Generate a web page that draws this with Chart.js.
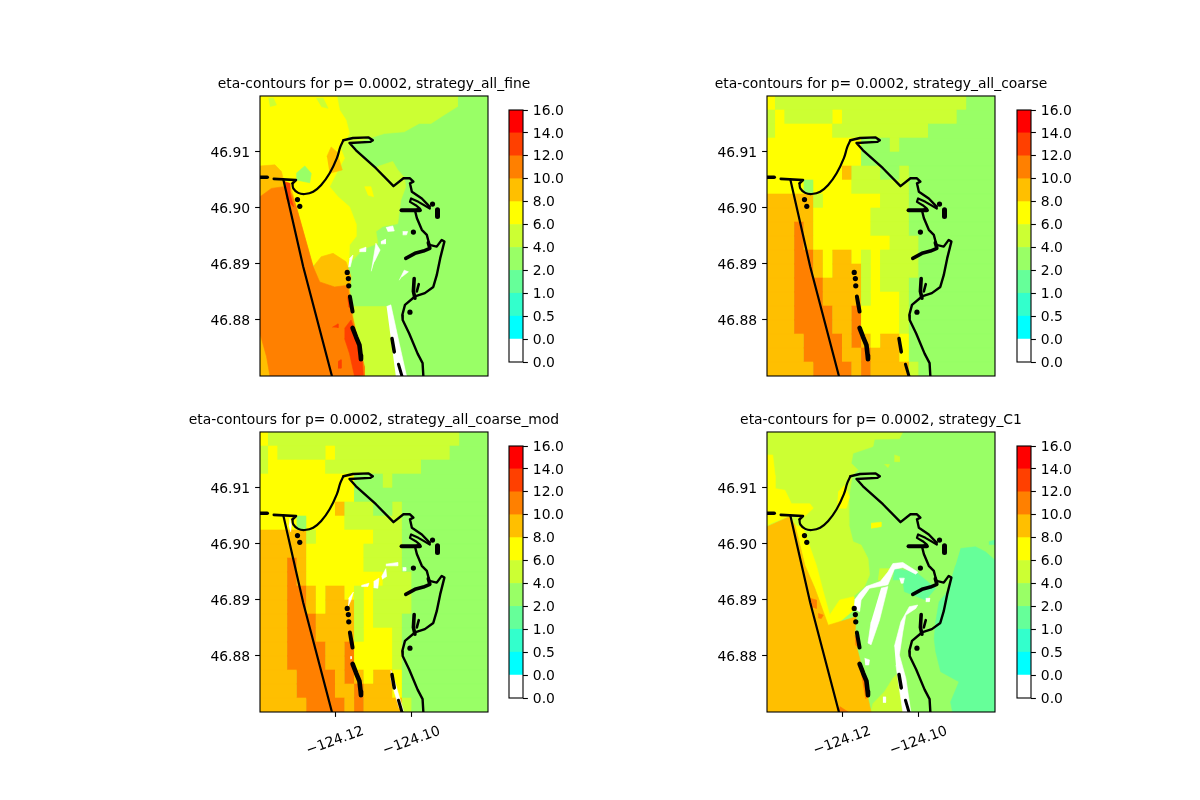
<!DOCTYPE html>
<html>
<head>
<meta charset="utf-8">
<title>eta contours</title>
<script src="https://cdn.jsdelivr.net/npm/chart.js@4"></script>
<style>
  html, body { margin: 0; padding: 0; background: #fff; }
  canvas { position: absolute; }
</style>
</head>
<body>
<script>
// colour levels and colorbar ticks
const levelColors = ['#ffffff', '#00ffff', '#33ffcc', '#66ff99', '#99ff66', '#ccff33', '#ffff00', '#ffbf00', '#ff8000', '#ff4000', '#ff0000'];
const colorTickLabels = ['0.0', '0.0', '0.5', '1.0', '2.0', '4.0', '6.0', '8.0', '10.0', '12.0', '14.0', '16.0'];
const lonTicks = [-124.12, -124.10];
const latTicks = [46.88, 46.89, 46.90, 46.91];
const titles = [
  'eta-contours for p= 0.0002, strategy_all_fine',
  'eta-contours for p= 0.0002, strategy_all_coarse',
  'eta-contours for p= 0.0002, strategy_all_coarse_mod',
  'eta-contours for p= 0.0002, strategy_C1'
];

// all shapes below: [east of lonWest, north of latSouth] in 1e-4 degrees
const lonWest = -124.1397, lonEast = -124.0801, latSouth = 46.87, latNorth = 46.92;
const fullBox = [[0, 0], [596, 0], [596, 500], [0, 500]];

// coastline
const coastJetty = [[188, 0], [113, 195], [61, 351]];
const coastDash = [[0, 355], [19, 355]];
const coastSpitHead = [[36, 352], [94, 350], [85, 344]];
const coastBayCurve = [[85, 344], [87, 335], [100, 327], [117, 325], [139, 329], [160, 341], [182, 362], [201, 389], [210, 409], [218, 421]];
const coastHook = [[218, 421], [243, 425], [284, 426], [295, 421], [288, 418], [234, 416], [251, 403], [303, 371], [349, 339], [375, 353], [392, 353], [401, 347], [392, 344], [397, 329], [423, 317], [444, 302]];
const coastLoop = [[444, 299], [414, 311], [395, 317], [392, 311], [407, 305], [418, 299], [405, 296]];
const coastMain = [[405, 296], [410, 282], [423, 261], [436, 252], [443, 234], [462, 231], [475, 243], [482, 240], [471, 210], [462, 180], [453, 159], [431, 148], [405, 142], [379, 127], [372, 109], [373, 100], [390, 76], [412, 40], [425, 23], [427, 0]];
const channelB = [[370, 296], [418, 296]];
const channelC = [[381, 210], [405, 219], [427, 223], [444, 228], [440, 238]];
const channelD = [[403, 174], [401, 151], [405, 139]];
const channelE = [[415, 164], [410, 151]];
const islandBlob = [[464, 297], [464, 285]];
const islandA = [[235, 142], [238, 130], [242, 115]];
const islandB = [[242, 86], [251, 70], [260, 55], [263, 37], [264, 30]];
const islandC = [[345, 67], [351, 43]];
const islandD = [[362, 21], [371, 0]];
const coastDots = [[98, 315], [104, 303], [401, 257], [392, 114], [228, 185], [231, 174], [232, 161], [451, 307]];

// all_fine contours
const f1North = [[147, 500], [516, 500], [516, 481], [481, 466], [447, 451], [416, 451], [377, 436], [325, 433], [269, 421], [234, 415], [303, 371], [308, 374], [347, 383], [360, 368], [377, 355], [381, 338], [368, 314], [360, 272], [321, 267], [303, 258], [308, 237], [269, 226], [234, 201], [147, 213]];
const f1South = [[243, 124], [334, 124], [355, 0], [273, 0], [243, 100]];
const f1Yellow = [[0, 500], [201, 500], [208, 475], [225, 457], [234, 433], [210, 408], [221, 389], [204, 368], [182, 338], [204, 320], [234, 302], [251, 272], [251, 249], [234, 234], [232, 195], [147, 195], [0, 272]];
const f1YellowPatch = [[273, 338], [290, 338], [297, 320], [282, 323]];
const f1GreenPatch = [[95, 362], [117, 375], [134, 362], [130, 345], [95, 350]];
const f1BitA = [[22, 496], [35, 496], [43, 484], [26, 481]];
const f1BitB = [[147, 496], [165, 496], [178, 478], [160, 481]];
const f1Amber = [[0, 375], [39, 377], [56, 365], [61, 351], [82, 335], [95, 302], [139, 195], [160, 213], [191, 219], [225, 204], [238, 177], [234, 154], [243, 106], [273, 0], [0, 0]];
const f1AmberPatch = [[175, 392], [186, 409], [201, 400], [215, 368], [182, 362]];
const f1Orange = [[0, 320], [30, 335], [61, 338], [82, 326], [95, 302], [139, 195], [156, 168], [195, 159], [230, 162], [234, 130], [243, 100], [273, 17], [273, 0], [26, 0], [17, 35], [0, 76]];
const f1RedA = [[65, 347], [78, 344], [78, 326], [88, 302], [68, 317]];
const f1RedB = [[221, 85], [238, 100], [251, 76], [266, 40], [270, 2], [247, 0], [234, 40], [221, 67]];
const f1RedC = [[228, 142], [241, 118], [231, 124]];
const f1RedD = [[189, 87], [204, 93], [204, 86]];
const f1RedE = [[204, 26], [212, 29], [212, 14], [204, 14]];
const f1HoleA = [[331, 124], [342, 127], [364, 58], [383, 0], [355, 0]];
const f1HoleB = [[234, 210], [243, 216], [236, 195], [231, 195]];
const f1HoleC = [[291, 187], [303, 237], [314, 225], [299, 204]];
const f1HoleD = [[364, 171], [377, 189], [388, 186], [371, 177]];
const f1HoleE = [[329, 265], [347, 268], [351, 259], [334, 258]];
const f1HoleF = [[260, 226], [277, 230], [276, 222], [260, 222]];
const f1HoleG = [[316, 240], [328, 244], [328, 236], [316, 236]];
const f1HoleH = [[373, 258], [386, 258], [383, 252], [373, 252]];
const fineLayers1 = [[4, fullBox], [5, f1North], [5, f1South], [6, f1Yellow], [6, f1YellowPatch], [4, f1GreenPatch], [5, f1BitA], [5, f1BitB], [7, f1Amber], [7, f1AmberPatch], [8, f1Orange], [9, f1RedA], [9, f1RedB], [9, f1RedC], [9, f1RedD], [9, f1RedE], [0, f1HoleA], [0, f1HoleB], [0, f1HoleC], [0, f1HoleD], [0, f1HoleE], [0, f1HoleF], [0, f1HoleG], [0, f1HoleH]];

// coarse grid levels, north to south, 24 cells per row (all_coarse and all_coarse_mod)
const coarseRows = [
  '6 55555555555555555555 444',
  '5 6 55555 6 555555555555 4444',
  '5 666666 5555555555 4444444',
  '6666666666 444 5 4444444444',
  '6666666666 44444444444444',
  '66666666 7 5 55 44 5 444444444',
  '6666 4 6666 555555 444444444',
  '77777 5 666666 555 444444444',
  '77777 666666 5555 444444444',
  '777 8 7 666666 5555 444444444',
  '777 8 7 66666666 555 44444444',
  '777 88 7 6 77 6 5 6 5555 44444444',
  '777 88 7 6 777 5 6 5555 44444444',
  '777 888 7777 5 6 555 444444444',
  '777 888 7777 5 666 5 444444444',
  '777 8888 77 8 6666 5 444444444',
  '777 8888 77 8 6666 5 444444444',
  '7777 8888 7 8 7 6 77 6 444444444',
  '7777 8888 77 8 777 6 444444444',
  '77777 8888 7 8 7777 5 44444444'
];
const firstCellWidth = 21, cellSize = 25;

// white gaps on all_coarse_mod
const modHoleA = [[78, 346], [82, 334], [80, 322], [76, 334]];
const modHoleB = [[232, 203], [244, 214], [238, 200], [230, 188]];
const modHoleC = [[265, 226], [285, 230], [282, 224], [265, 224]];
const modHoleD = [[297, 233], [311, 239], [308, 221], [297, 222]];
const modHoleE = [[318, 242], [329, 256], [331, 242], [319, 237]];
const modHoleF = [[329, 264], [360, 267], [360, 261], [329, 261]];
const modHoleG = [[373, 258], [381, 258], [381, 252], [373, 252]];
const modHoleH = [[342, 75], [355, 48], [375, 2], [364, 7], [351, 36], [342, 60]];
const modHoleI = [[236, 99], [239, 99], [239, 95], [236, 95]];
const modLayers = [[0, modHoleA], [0, modHoleB], [0, modHoleC], [0, modHoleD], [0, modHoleE], [0, modHoleF], [0, modHoleG], [0, modHoleH], [0, modHoleI]];

// strategy_C1 contours
const c1Green = [[0, 500], [355, 500], [346, 488], [281, 487], [277, 474], [225, 462], [220, 444], [238, 432], [223, 423], [212, 375], [214, 334], [225, 304], [246, 298], [264, 274], [268, 245], [255, 224], [225, 206], [164, 167], [86, 322], [0, 320]];
const c1South = [[272, 0], [277, 15], [307, 36], [329, 60], [342, 69], [355, 0]];
const c1PatchA = [[294, 256], [324, 256], [307, 233], [290, 236]];
const c1PatchB = [[333, 459], [346, 456], [346, 447], [333, 447]];
const c1PatchC = [[307, 442], [320, 442], [316, 436]];
const c1East = [[506, 292], [545, 295], [571, 286], [596, 271], [596, 0], [485, 0], [480, 18], [502, 54], [454, 72], [441, 108], [437, 131], [441, 161], [450, 197], [472, 215], [480, 233], [493, 262]];
const c1Inner = [[333, 256], [389, 250], [441, 221], [415, 200], [381, 209], [359, 215], [355, 236], [329, 236]];
const c1EastBit = [[580, 304], [596, 307], [596, 299], [580, 299]];
const c1YellowA = [[0, 459], [15, 459], [21, 423], [21, 399], [47, 396], [64, 372], [112, 372], [121, 364], [103, 352], [86, 346], [68, 353], [0, 334]];
const c1YellowB = [[73, 334], [95, 328], [129, 262], [147, 215], [164, 173], [190, 200], [227, 206], [227, 182], [190, 161], [160, 152], [125, 221], [99, 262]];
const c1YellowC = [[186, 393], [203, 405], [216, 384], [207, 364], [183, 364]];
const c1YellowD = [[272, 337], [298, 339], [298, 331], [272, 328]];
const c1Amber = [[0, 331], [60, 349], [73, 334], [99, 262], [125, 221], [160, 155], [233, 170], [229, 131], [242, 96], [272, 0], [0, 0]];
const c1OrangeA = [[112, 203], [129, 200], [129, 185], [116, 188]];
const c1OrangeB = [[134, 176], [147, 173], [142, 167], [134, 168]];
const c1OrangeC = [[190, 10], [212, 0], [186, 0]];
const c1OrangeD = [[229, 137], [240, 129], [240, 114], [231, 120]];
const c1OrangeE = [[242, 84], [252, 78], [266, 27], [257, 24]];
const c1HoleA = [[229, 200], [242, 212], [259, 224], [296, 233], [316, 250], [329, 265], [355, 267], [394, 250], [389, 246], [355, 258], [333, 255], [316, 227], [268, 221], [246, 200], [242, 179], [227, 185]];
const c1HoleB = [[298, 221], [316, 224], [294, 164], [272, 120], [264, 123], [272, 161]];
const c1HoleC = [[333, 117], [350, 161], [372, 188], [394, 191], [389, 185], [363, 173], [355, 143], [346, 102], [363, 60], [376, 0], [355, 0], [337, 84]];
const c1HoleD = [[303, 27], [310, 27], [310, 17], [303, 17]];
const c1HoleE = [[346, 239], [359, 239], [356, 230], [350, 230]];
const c1HoleF = [[415, 203], [426, 203], [424, 197], [415, 197]];
const c1HoleG = [[255, 96], [268, 93], [266, 84], [257, 84]];
const fineLayers4 = [[4, fullBox], [5, c1Green], [3, c1East], [3, c1EastBit], [3, c1Inner], [5, c1South], [5, c1PatchA], [5, c1PatchB], [5, c1PatchC], [6, c1YellowA], [6, c1YellowB], [6, c1YellowC], [6, c1YellowD], [7, c1Amber], [8, c1OrangeA], [8, c1OrangeB], [8, c1OrangeC], [8, c1OrangeD], [8, c1OrangeE], [0, c1HoleA], [0, c1HoleB], [0, c1HoleC], [0, c1HoleD], [0, c1HoleE], [0, c1HoleF], [0, c1HoleG]];

const fontFamily = '"DejaVu Sans", sans-serif';
Chart.defaults.font.family = fontFamily;
Chart.defaults.font.size = 13.9;
Chart.defaults.color = '#000';
Chart.defaults.animation = false;

function toPoints(shape) {
  return shape.map(p => ({ x: lonWest + p[0] / 1e4, y: latSouth + p[1] / 1e4 }));
}

function polygon(level, shape) {
  const c = levelColors[level];
  return { data: toPoints(shape), showLine: true, fill: 'shape', tension: 0, pointRadius: 0,
    backgroundColor: c, borderColor: c, borderWidth: 0.6 };
}

function coastLine(shape, width, tension) {
  return { data: toPoints(shape), showLine: true, fill: false, tension: tension || 0, pointRadius: 0,
    borderColor: '#000', borderWidth: width, borderJoinStyle: 'round', borderCapStyle: 'round' };
}

// turn the coarse grid rows into one rectangle per run of equal cells
function coarseLayers() {
  const out = [[4, fullBox]];
  coarseRows.forEach((row, r) => {
    const cells = row.replace(/ /g, '');
    const top = (coarseRows.length - r) * cellSize, bottom = top - cellSize;
    const edge = k => k === 0 ? 0 : firstCellWidth + (k - 1) * cellSize;
    let start = 0;
    for (let k = 1; k <= cells.length; k++) {
      if (k === cells.length || cells[k] !== cells[start]) {
        out.push([Number(cells[start]), [[edge(start), bottom], [edge(k), bottom], [edge(k), top], [edge(start), top]]]);
        start = k;
      }
    }
  });
  return out;
}

function coastDatasets() {
  const sets = [
    coastLine(coastJetty, 2.2), coastLine(coastDash, 3.5), coastLine(coastSpitHead, 2.6),
    coastLine(coastBayCurve, 2.2, 0.4), coastLine(coastHook, 2.4), coastLine(coastLoop, 2.2), coastLine(coastMain, 2.4),
    coastLine(channelB, 4), coastLine(channelC, 3.6), coastLine(channelD, 3.6), coastLine(channelE, 2.6),
    coastLine(islandBlob, 5), coastLine(islandA, 4), coastLine(islandB, 4.6), coastLine(islandC, 3.5), coastLine(islandD, 3)
  ];
  sets.push({ data: toPoints(coastDots), showLine: false, pointRadius: 2.6, pointBackgroundColor: '#000', pointBorderWidth: 0 });
  return sets;
}

const framePlugin = {
  id: 'frame',
  afterDatasetsDraw(chart) {
    const a = chart.chartArea, ctx = chart.ctx;
    ctx.save();
    ctx.strokeStyle = '#000';
    ctx.lineWidth = 1.1;
    ctx.strokeRect(a.left, a.top, a.right - a.left, a.bottom - a.top);
    ctx.restore();
  }
};

function addCanvas(left, top, width, height) {
  const el = document.createElement('canvas');
  el.width = width;
  el.height = height;
  el.style.left = left + 'px';
  el.style.top = top + 'px';
  el.style.width = width + 'px';
  el.style.height = height + 'px';
  document.body.appendChild(el);
  return el.getContext('2d');
}

const tickGrid = { display: true, drawOnChartArea: false, drawTicks: true, tickLength: 4.9, tickColor: '#000', tickWidth: 1.1 };

function drawMap(left, top, title, layers, showLon) {
  const datasets = layers.map(l => polygon(l[0], l[1])).concat(coastDatasets()).reverse();
  new Chart(addCanvas(left, top, 448, 376), {
    type: 'scatter',
    data: { datasets },
    plugins: [framePlugin],
    options: {
      responsive: false,
      devicePixelRatio: 1,
      plugins: {
        legend: { display: false },
        tooltip: { enabled: false },
        title: { display: true, text: title, color: '#000', font: { size: 13.9, weight: 'normal', lineHeight: 1.2 }, padding: { top: 16.5, bottom: 2.8 } }
      },
      scales: {
        x: {
          type: 'linear', min: lonWest, max: lonEast, display: showLon,
          grid: tickGrid, border: { display: false },
          afterBuildTicks: s => { s.ticks = lonTicks.map(v => ({ value: v })); },
          afterFit: s => { s.height = 60; },
          ticks: { autoSkip: false, minRotation: 20, maxRotation: 20, padding: 6, labelOffset: 28,
            callback: v => '\u2212' + Math.abs(v).toFixed(2) }
        },
        y: {
          type: 'linear', min: latSouth, max: latNorth,
          grid: tickGrid, border: { display: false },
          afterBuildTicks: s => { s.ticks = latTicks.map(v => ({ value: v })); },
          afterFit: s => { s.width = 110; },
          ticks: { autoSkip: false, padding: 4.9, labelOffset: 1, callback: v => v.toFixed(2) }
        },
        // empty axis that keeps the title centred over the map
        rightGap: {
          type: 'linear', position: 'right',
          grid: { display: false }, border: { display: false },
          ticks: { display: false },
          afterFit: s => { s.width = 110; }
        }
      }
    }
  });
}

function drawColorbar(left, top) {
  const datasets = levelColors.map(c => ({ data: [1], backgroundColor: c, borderWidth: 0, barPercentage: 1, categoryPercentage: 1 }));
  new Chart(addCanvas(left, top, 70, 292), {
    type: 'bar',
    data: { labels: [''], datasets },
    plugins: [framePlugin],
    options: {
      responsive: false,
      devicePixelRatio: 1,
      layout: { padding: { left: 9, top: 20, bottom: 20, right: 0 } },
      plugins: { legend: { display: false }, tooltip: { enabled: false } },
      scales: {
        x: { stacked: true, display: false },
        y: {
          stacked: true, position: 'right', min: 0, max: levelColors.length,
          grid: tickGrid, border: { display: false },
          afterFit: s => { s.width = 47; },
          ticks: { autoSkip: false, stepSize: 1, padding: 4.9, labelOffset: 1, callback: v => colorTickLabels[v] }
        }
      }
    }
  });
}

const coarse = coarseLayers();
drawMap(150, 60, titles[0], fineLayers1, false);
drawMap(657, 60, titles[1], coarse, false);
drawMap(150, 396, titles[2], coarse.concat(modLayers), true);
drawMap(657, 396, titles[3], fineLayers4, true);
drawColorbar(500, 90);
drawColorbar(1008, 90);
drawColorbar(500, 426);
drawColorbar(1008, 426);
</script>
</body>
</html>
